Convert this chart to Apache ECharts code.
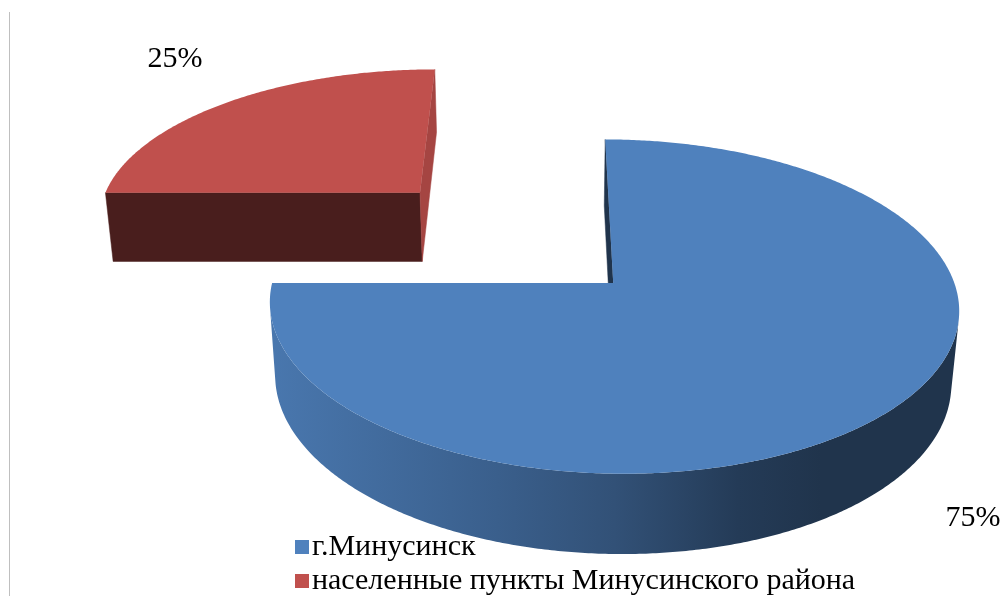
<!DOCTYPE html>
<html>
<head>
<meta charset="utf-8">
<script src="https://cdn.jsdelivr.net/npm/echarts@6/dist/echarts.min.js"></script>
<style>
  html, body { margin: 0; padding: 0; background: #ffffff; }
  #chart { width: 1003px; height: 596px; }
</style>
</head>
<body>
<div id="chart"></div>
<script>
// Share of the population: the town itself versus the surrounding settlements
const categories = ['г.Минусинск', 'населенные пункты Минусинского района'];
const values = [75, 25];

// Look of each slice (top colour, how far it is pulled out of the pie)
const sliceColors = ['#4f81bd', '#c0504d'];
const sliceExplode = [0, 0.846];

// Perspective camera for the 3D pie (unit radius, pie top at y = 0)
const cam = {
  px: 548.4, py: 283,     // screen point of the optical axis
  f: 2120,                // focal length in px
  dist: 6.215,            // distance from pie centre
  tilt: 28.7 * Math.PI / 180,
  lateral: -0.19,         // camera shifted slightly to the left
  thickness: 0.248        // pie height relative to radius
};
const FONT = '"Liberation Serif", "Times New Roman", serif';

const total = values.reduce((a, b) => a + b, 0);
const sT = Math.sin(cam.tilt), cT = Math.cos(cam.tilt);
const camPos = [cam.lateral, cam.dist * sT, cam.dist * cT];

function project(x, y, z) {
  const xc = x - cam.lateral;
  const yc = y * cT - z * sT;
  const d = cam.dist - y * sT - z * cT;
  return [cam.px + cam.f * xc / d, cam.py - cam.f * yc / d];
}

function scale(hex, k) {
  const n = parseInt(hex.slice(1), 16);
  const r = Math.round(((n >> 16) & 255) * k);
  const g = Math.round(((n >> 8) & 255) * k);
  const b = Math.round((n & 255) * k);
  return 'rgb(' + r + ',' + g + ',' + b + ')';
}

function facing(normal, p) {
  return normal[0] * (camPos[0] - p[0]) + normal[1] * (camPos[1] - p[1]) + normal[2] * (camPos[2] - p[2]) > 0;
}

function sliceAngles(i) {
  let cum = 0;
  for (let j = 0; j < i; j++) cum += values[j];
  const a0 = 2 * Math.PI * cum / total;
  const a1 = 2 * Math.PI * (cum + values[i]) / total;
  return [a0, a1];
}

function sliceDepth(i) {
  const [a0, a1] = sliceAngles(i);
  const am = (a0 + a1) / 2;
  const e = sliceExplode[i];
  // z of the slice centroid (larger = nearer the viewer)
  return -e * Math.cos(am) - 0.5 * Math.cos(am);
}

function renderSlice(i) {
  const [a0, a1] = sliceAngles(i);
  const am = (a0 + a1) / 2;
  const e = sliceExplode[i];
  const ox = e * Math.sin(am), oz = -e * Math.cos(am);
  const h = cam.thickness;
  const base = sliceColors[i];
  const rim = (a, y) => [ox + Math.sin(a), y, oz - Math.cos(a)];

  // painter's order: farther slices first
  const order = values.map((_, k) => k).sort((p, q) => sliceDepth(p) - sliceDepth(q));
  const zBase = order.indexOf(i) * 10;

  const steps = Math.max(8, Math.ceil((a1 - a0) / (Math.PI / 360)));
  const angles = [];
  for (let s = 0; s <= steps; s++) angles.push(a0 + (a1 - a0) * s / steps);

  const children = [];

  // outer curved wall, only the runs that face the camera
  let run = [];
  const runs = [];
  for (let s = 0; s < steps; s++) {
    const m = (angles[s] + angles[s + 1]) / 2;
    const vis = facing([Math.sin(m), 0, -Math.cos(m)], rim(m, 0));
    if (vis) {
      if (!run.length) run.push(angles[s]);
      run.push(angles[s + 1]);
    } else if (run.length) { runs.push(run); run = []; }
  }
  if (run.length) runs.push(run);
  runs.forEach(r => {
    const top = r.map(a => project(...rim(a, 0)));
    const bot = r.map(a => project(...rim(a, -h))).reverse();
    const pts = top.concat(bot);
    const xs = pts.map(p => p[0]);
    const xmin = Math.min(...xs), xmax = Math.max(...xs);
    children.push({
      type: 'polygon', z2: zBase + 1,
      shape: { points: pts },
      style: {
        fill: new echarts.graphic.LinearGradient(xmin, 0, xmax, 0, [
          { offset: 0, color: scale(base, 0.92) },
          { offset: 0.33, color: scale(base, 0.74) },
          { offset: 0.5, color: scale(base, 0.63) },
          { offset: 0.68, color: scale(base, 0.46) },
          { offset: 0.8, color: scale(base, 0.4) },
          { offset: 1, color: scale(base, 0.4) }
        ], true)
      }
    });
  });

  // the two flat cut faces along the slice edges
  [[a0, -1], [a1, 1]].forEach(([a, sign]) => {
    const n = [sign * Math.cos(a), 0, sign * Math.sin(a)];
    const r = rim(a, 0);
    const mid = [(ox + r[0]) / 2, -h / 2, (oz + r[2]) / 2];
    if (!facing(n, mid)) return;
    const shade = 0.63 + 0.23 * n[0] - 0.25 * n[2];
    const pts = [
      project(ox, 0, oz), project(...rim(a, 0)),
      project(...rim(a, -h)), project(ox, -h, oz)
    ];
    children.push({
      type: 'polygon', z2: zBase + 2,
      shape: { points: pts },
      style: { fill: scale(base, shade), stroke: scale(base, shade), lineWidth: 0.5 }
    });
  });

  // top face
  const topPts = [project(ox, 0, oz)].concat(angles.map(a => project(...rim(a, 0))));
  children.push({
    type: 'polygon', z2: zBase + 3,
    shape: { points: topPts },
    style: { fill: base }
  });

  // percentage label just outside the rim
  const pct = Math.round(values[i] / total * 100) + '%';
  const front = -Math.cos(am) > 0;
  const lr = front ? 1.25 : 1.32;
  const lp = front
    ? project(ox + lr * Math.sin(am), -h, oz - lr * Math.cos(am))
    : project(ox + lr * Math.sin(am), 0, oz - lr * Math.cos(am));
  children.push({
    type: 'text', z2: zBase + 5,
    x: lp[0] + (front ? 15 : 3), y: lp[1] + (front ? -10 : -3),
    style: {
      text: pct, fill: '#000000', fontSize: 30, fontFamily: FONT,
      align: 'center', verticalAlign: front ? 'middle' : 'bottom'
    }
  });

  return { type: 'group', children };
}

const legendBase = {
  orient: 'vertical',
  left: 295,
  padding: 0,
  icon: 'rect',
  itemWidth: 14, itemHeight: 14,
  textStyle: { fontFamily: FONT, fontSize: 30, color: '#000000', lineHeight: 30, padding: [0, 0, 0, -2] }
};

const chart = echarts.init(document.getElementById('chart'), null, { renderer: 'canvas' });
chart.setOption({
  animation: false,
  backgroundColor: '#ffffff',
  graphic: [{
    type: 'line', silent: true,
    shape: { x1: 9.5, y1: 12, x2: 9.5, y2: 596 },
    style: { stroke: '#bfbfbf', lineWidth: 1 }
  }],
  legend: categories.map((name, i) => Object.assign({}, legendBase, {
    top: 532 + i * 34,
    data: [name]
  })),
  series: categories.map((name, i) => ({
    type: 'custom',
    name: name,
    coordinateSystem: 'none',
    silent: true,
    itemStyle: { color: sliceColors[i] },
    data: [values[i]],
    renderItem: () => renderSlice(i)
  }))
});
</script>
</body>
</html>
